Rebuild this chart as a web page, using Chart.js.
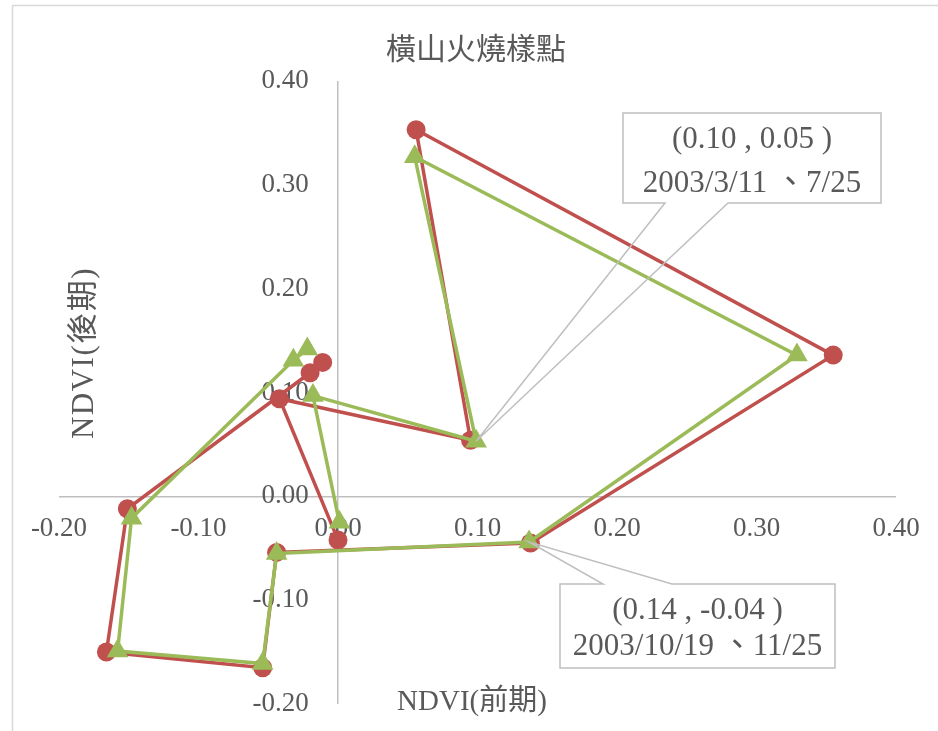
<!DOCTYPE html>
<html>
<head>
<meta charset="utf-8">
<script src="https://cdn.jsdelivr.net/npm/chart.js@4.4.1/dist/chart.umd.min.js"></script>
<style>
  html, body { margin: 0; padding: 0; background: #ffffff; }
  #wrap { width: 938px; height: 731px; position: relative; }
</style>
</head>
<body>
<div id="wrap"><canvas id="c" width="938" height="731"></canvas></div>
<script>
// ---- texts ----
const chartTitle = '橫山火燒樣點';
const xTitle = 'NDVI(前期)';
const yTitle = 'NDVI(後期)';

// ---- tick values (both axes share the same range) ----
const axisTicks = [-0.2, -0.1, 0.0, 0.1, 0.2, 0.3, 0.4];

// ---- sample point series (NDVI before, NDVI after) ----
const redX   = [0.000, -0.042, 0.095, 0.056, 0.355, 0.138, -0.044, -0.054, -0.166, -0.151, -0.020, -0.011];
const redY   = [-0.042, 0.094, 0.054, 0.353, 0.136, -0.045, -0.054, -0.165, -0.150, -0.012, 0.119, 0.129];
const greenX = [0.001, -0.018, 0.099, 0.055, 0.329, 0.137, -0.044, -0.054, -0.158, -0.148, -0.032, -0.022];
const greenY = [-0.025, 0.097, 0.053, 0.327, 0.136, -0.044, -0.055, -0.161, -0.149, -0.021, 0.131, 0.142];

// ---- labelled points: index in the green series and their dates ----
const calloutIndex = [2, 5];
const calloutDates = ['2003/3/11 、7/25', '2003/10/19 、11/25'];

const RED = '#C0504D';
const GREEN = '#9BBB59';
const GRAY_TEXT = '#595959';
const AXIS_LINE = '#BFBFBF';
const SERIF = "'Liberation Serif', 'Times New Roman', 'Noto Sans CJK TC', serif";

// y tick labels are set a little to the left of the vertical zero line
const yLabelColumn = -0.021;

function toPoints(xs, ys) {
  return xs.map((x, i) => ({ x: x, y: ys[i] }));
}

// callout boxes: rectangle and where the pointer leaves the box
const calloutLayout = [
  { x: 623, y: 113, w: 258, h: 90, side: 'bottom', base: [665, 728], lineGap: 44, shift: 4 },
  { x: 560, y: 584, w: 275, h: 84, side: 'top', base: [603, 672], lineGap: 36, shift: 3 }
];

const framePlugin = {
  id: 'frameAndTitles',
  beforeDraw(chart) {
    const ctx = chart.ctx;
    ctx.save();
    ctx.fillStyle = '#ffffff';
    ctx.fillRect(0, 0, chart.width, chart.height);
    ctx.strokeStyle = '#D9D9D9';
    ctx.lineWidth = 1.5;
    ctx.strokeRect(12.5, 5.5, 1000, 1000);
    ctx.restore();
  },
  afterDraw(chart) {
    const ctx = chart.ctx;
    ctx.save();
    ctx.fillStyle = GRAY_TEXT;
    ctx.textAlign = 'center';
    ctx.textBaseline = 'middle';
    ctx.font = "30px 'Noto Sans CJK TC'";
    ctx.fillText(chartTitle, 476, 48);
    ctx.font = '29px ' + SERIF;
    ctx.fillText(xTitle, 472, 702);
    ctx.translate(85, 353);
    ctx.rotate(-Math.PI / 2);
    ctx.font = '31px ' + SERIF;
    ctx.letterSpacing = '1.5px';
    ctx.fillText(yTitle, 0, 0);
    ctx.restore();
  }
};

const calloutPlugin = {
  id: 'callouts',
  afterDatasetsDraw(chart) {
    const ctx = chart.ctx;
    const meta = chart.getDatasetMeta(chart.data.datasets.findIndex(d => d.pointStyle === 'triangle'));
    calloutIndex.forEach((idx, k) => {
      const pt = meta.data[idx];
      const b = calloutLayout[k];
      const L = b.x, T = b.y, R = b.x + b.w, B = b.y + b.h;
      ctx.save();
      ctx.fillStyle = '#ffffff';
      ctx.fillRect(L, T, b.w, b.h);
      ctx.strokeStyle = AXIS_LINE;
      ctx.lineWidth = 1.5;
      ctx.beginPath();
      if (b.side === 'bottom') {
        ctx.moveTo(L, T); ctx.lineTo(R, T); ctx.lineTo(R, B);
        ctx.lineTo(b.base[1], B); ctx.lineTo(pt.x, pt.y); ctx.lineTo(b.base[0], B);
        ctx.lineTo(L, B); ctx.closePath();
      } else {
        ctx.moveTo(L, T); ctx.lineTo(b.base[0], T); ctx.lineTo(pt.x, pt.y); ctx.lineTo(b.base[1], T);
        ctx.lineTo(R, T); ctx.lineTo(R, B); ctx.lineTo(L, B); ctx.closePath();
      }
      ctx.stroke();
      const line1 = '(' + greenX[idx].toFixed(2) + ' , ' + greenY[idx].toFixed(2) + ' )';
      ctx.fillStyle = GRAY_TEXT;
      ctx.font = '31px ' + SERIF;
      ctx.textAlign = 'center';
      ctx.textBaseline = 'middle';
      const cx = L + b.w / 2, cy = T + b.h / 2 + b.shift;
      ctx.fillText(line1, cx, cy - b.lineGap / 2);
      ctx.fillText(calloutDates[k], cx, cy + b.lineGap / 2);
      ctx.restore();
    });
  }
};

// only the zero line of each axis is visible, like crossing axes
const zeroLineColor = (c) => (c.tick && c.tick.value === 0 ? AXIS_LINE : 'rgba(0,0,0,0)');

function axisOptions(crossAt, pad) {
  return {
    type: 'linear',
    min: -0.2,
    max: 0.4,
    position: crossAt,
    afterBuildTicks: (scale) => { scale.ticks = axisTicks.map(v => ({ value: v })); },
    ticks: {
      callback: (v) => Number(v).toFixed(2),
      color: GRAY_TEXT,
      font: { family: SERIF, size: 27 },
      padding: pad,
      autoSkip: false,
      maxRotation: 0
    },
    grid: { display: true, drawTicks: false, color: zeroLineColor, lineWidth: 1.5 },
    border: { display: false }
  };
}

new Chart(document.getElementById('c'), {
  type: 'scatter',
  data: {
    datasets: [
      {
        label: '前後期(一)',
        data: toPoints(redX, redY),
        showLine: true,
        order: 1,
        borderColor: RED,
        backgroundColor: RED,
        borderWidth: 3.5,
        pointStyle: 'circle',
        pointRadius: 9.5,
        pointBorderWidth: 0,
        pointHoverRadius: 9.5
      },
      {
        label: '前後期(二)',
        data: toPoints(greenX, greenY),
        showLine: true,
        order: 0,
        borderColor: GREEN,
        backgroundColor: GREEN,
        borderWidth: 3.5,
        pointStyle: 'triangle',
        pointRadius: 12.5,
        pointBorderWidth: 0,
        pointHoverRadius: 12.5
      }
    ]
  },
  options: {
    responsive: false,
    animation: false,
    devicePixelRatio: 1,
    layout: { padding: { left: 59, right: 42, top: 81, bottom: 27 } },
    plugins: {
      legend: { display: false },
      title: { display: false },
      tooltip: { enabled: false }
    },
    scales: {
      x: axisOptions({ y: 0 }, 16),
      y: axisOptions({ x: yLabelColumn }, 0)
    }
  },
  plugins: [framePlugin, calloutPlugin]
});
</script>
</body>
</html>
